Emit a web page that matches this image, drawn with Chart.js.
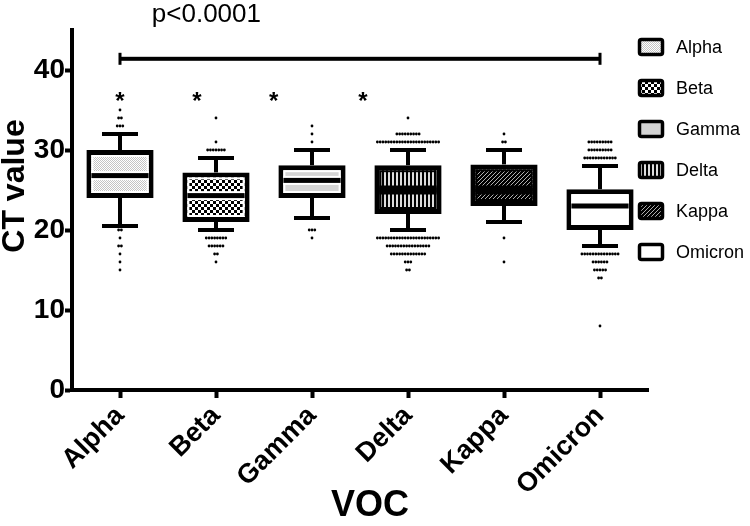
<!DOCTYPE html>
<html>
<head>
<meta charset="utf-8">
<script src="https://cdn.jsdelivr.net/npm/chart.js@4.4.1/dist/chart.umd.min.js"></script>
<style>
  html, body { margin: 0; padding: 0; background: #fff; }
  #wrap { width: 750px; height: 526px; position: relative; }
</style>
</head>
<body>
<div id="wrap"><canvas id="ctChart"></canvas></div>
<script>
const categories = ['Alpha', 'Beta', 'Gamma', 'Delta', 'Kappa', 'Omicron'];
const whiskerLow = [20.5, 20, 21.5, 20, 21, 18];
const q1 = [24, 21, 24, 22, 23, 20];
const medians = [26.8, 24.3, 26.2, 25, 25, 23];
const q3 = [30, 27.2, 28.1, 28.1, 28.2, 25.1];
const whiskerHigh = [32, 29, 30, 30, 30, 28];

// outlier rows: [CT value, number of dots]
const alphaOutliers = [[35, 1], [34, 2], [33, 3], [20, 2], [19, 1], [18, 2], [17, 1], [16, 1], [15, 1]];
const betaOutliers = [[34, 1], [31, 1], [30, 7], [19, 8], [18, 6], [17, 2], [16, 1]];
const gammaOutliers = [[33, 1], [32, 1], [31, 1], [20, 3], [19, 1]];
const deltaOutliers = [[34, 1], [32, 9], [31, 23], [19, 23], [18, 16], [17, 13], [16, 3], [15, 2]];
const kappaOutliers = [[32, 1], [31, 2], [19, 1], [16, 1]];
const omicronOutliers = [[31, 9], [30, 9], [29, 12], [17, 14], [16, 6], [15, 5], [14, 2], [8, 1]];
const outliers = [alphaOutliers, betaOutliers, gammaOutliers, deltaOutliers, kappaOutliers, omicronOutliers];

const yTicks = [0, 10, 20, 30, 40];
const starX = [0, 0.8, 1.6, 2.53];
const starY = 36.5;
const bracketY = 41.4;
const pLabel = 'p<0.0001';
const pX = 0.9;

// fill patterns like the prism style
function tile(w, h, draw) {
  const c = document.createElement('canvas');
  c.width = w; c.height = h;
  const g = c.getContext('2d');
  draw(g);
  return c.getContext('2d').createPattern(c, 'repeat');
}
const fills = [
  tile(2, 2, g => { g.fillStyle = '#fff'; g.fillRect(0, 0, 2, 2); g.fillStyle = '#c4c4c4'; g.fillRect(0, 0, 1, 1); g.fillRect(1, 1, 1, 1); }),
  tile(6, 6, g => { g.fillStyle = '#fff'; g.fillRect(0, 0, 6, 6); g.fillStyle = '#000'; g.fillRect(0, 0, 3, 3); g.fillRect(3, 3, 3, 3); }),
  '#d4d4d4',
  tile(4, 4, g => { g.fillStyle = '#000'; g.fillRect(0, 0, 4, 4); g.fillStyle = '#dcdcdc'; g.fillRect(0, 0, 2, 4); }),
  tile(4, 4, g => { g.fillStyle = '#000'; g.fillRect(0, 0, 4, 4); g.fillStyle = '#b0b0b0'; for (let i = 0; i < 4; i++) g.fillRect(i, 3 - i, 1, 1); }),
  '#fff'
];
const insetColors = ['#fff', '#fff', '#fff', '#000', '#000', '#fff'];

const outlierPoints = [];
outliers.forEach((rows, i) => {
  rows.forEach(([v, n]) => {
    for (let j = 0; j < n; j++) {
      outlierPoints.push({ x: i + (j - (n - 1) / 2) * 0.029, y: v });
    }
  });
});

const FONT = 'Arial, "Liberation Sans", sans-serif';

const boxDecor = {
  id: 'boxDecor',
  afterDatasetsDraw(chart) {
    const ctx = chart.ctx;
    const y = chart.scales.y;
    const meta = chart.getDatasetMeta(0);
    ctx.save();
    meta.data.forEach((bar, i) => {
      const cx = bar.x;
      const half = bar.width / 2;
      const top = y.getPixelForValue(q3[i]);
      const bot = y.getPixelForValue(q1[i]);
      const l = cx - half, r = cx + half;
      // inset line inside the border
      ctx.strokeStyle = insetColors[i];
      ctx.lineWidth = 2;
      ctx.strokeRect(l + 6, top + 6, r - l - 12, bot - top - 12);
      // median
      const my = y.getPixelForValue(medians[i]);
      ctx.fillStyle = insetColors[i];
      ctx.fillRect(l + 5, my - 4.5, r - l - 10, 9);
      ctx.fillStyle = '#000';
      ctx.fillRect(l + 5, my - 2.5, r - l - 10, 5);
      // whiskers
      const hi = y.getPixelForValue(whiskerHigh[i]);
      const lo = y.getPixelForValue(whiskerLow[i]);
      ctx.fillRect(cx - 2, hi, 4, top - hi);
      ctx.fillRect(cx - 2, bot, 4, lo - bot);
      ctx.fillRect(cx - 18, hi - 2, 36, 4);
      ctx.fillRect(cx - 18, lo - 2, 36, 4);
    });
    ctx.restore();
  },
  afterDraw(chart) {
    const ctx = chart.ctx;
    const y = chart.scales.y;
    const xs = chart.scales.xs;
    ctx.save();
    // significance bracket
    const by = y.getPixelForValue(bracketY);
    const bx0 = xs.getPixelForValue(0), bx1 = xs.getPixelForValue(5);
    ctx.fillStyle = '#000';
    ctx.fillRect(bx0, by - 2, bx1 - bx0, 4);
    ctx.fillRect(bx0 - 1.5, by - 6, 3, 12);
    ctx.fillRect(bx1 - 1.5, by - 6, 3, 12);
    ctx.font = '26px ' + FONT;
    ctx.textAlign = 'center';
    ctx.textBaseline = 'alphabetic';
    ctx.fillText(pLabel, xs.getPixelForValue(pX), 22);
    ctx.font = 'bold 24px ' + FONT;
    ctx.textBaseline = 'middle';
    starX.forEach(sx => ctx.fillText('*', xs.getPixelForValue(sx), y.getPixelForValue(starY) + 4));
    // axis titles
    ctx.save();
    ctx.translate(15, 186);
    ctx.rotate(-Math.PI / 2);
    ctx.font = 'bold 32px ' + FONT;
    ctx.fillText('CT value', 0, 0);
    ctx.restore();
    ctx.font = 'bold 36px ' + FONT;
    ctx.fillText('VOC', 370, 506);
    // legend
    ctx.font = '18px ' + FONT;
    ctx.textAlign = 'left';
    categories.forEach((name, i) => {
      const cy = 47 + i * 41;
      ctx.beginPath();
      ctx.roundRect(639.5, cy - 7.5, 23, 15, 2);
      ctx.fillStyle = fills[i];
      ctx.fill();
      ctx.lineWidth = 3.5;
      ctx.strokeStyle = '#000';
      ctx.stroke();
      ctx.fillStyle = '#000';
      ctx.fillText(name, 676, cy + 1);
    });
    ctx.restore();
  }
};

Chart.defaults.font.family = FONT;
Chart.defaults.color = '#000';

new Chart(document.getElementById('ctChart'), {
  type: 'bar',
  data: {
    labels: categories,
    datasets: [
      {
        label: 'CT value',
        data: categories.map((c, i) => [q1[i], q3[i]]),
        backgroundColor: fills,
        borderColor: '#000',
        borderWidth: 5,
        borderSkipped: false,
        barPercentage: 0.7,
        categoryPercentage: 1,
        grouped: false,
        order: 2
      },
      {
        type: 'scatter',
        label: 'outliers',
        data: outlierPoints,
        xAxisID: 'xs',
        pointRadius: 1.4,
        pointBorderWidth: 0,
        backgroundColor: '#000',
        order: 1
      }
    ]
  },
  options: {
    responsive: true,
    maintainAspectRatio: false,
    animation: false,
    layout: { padding: { top: 30, right: 102, left: 0, bottom: 0 } },
    plugins: { legend: { display: false }, tooltip: { enabled: false } },
    scales: {
      x: {
        type: 'category',
        offset: true,
        border: { color: '#000', width: 4 },
        grid: { offset: false, drawOnChartArea: false, tickLength: 8, tickWidth: 4, tickColor: '#000' },
        ticks: { font: { size: 27, weight: 'bold' }, maxRotation: 45, minRotation: 45, padding: 2 },
        afterFit(scale) { scale.height = 136; }
      },
      xs: { type: 'linear', display: false, offset: false, grid: { offset: false }, min: -0.5, max: 5.5 },
      y: {
        min: 0,
        max: 45,
        border: { color: '#000', width: 4 },
        grid: { drawOnChartArea: false, tickLength: 7, tickWidth: 4, tickColor: '#000' },
        afterBuildTicks(scale) { scale.ticks = yTicks.map(v => ({ value: v })); },
        ticks: { font: { size: 28, weight: 'bold' }, padding: 0 },
        afterFit(scale) { scale.width = 72; }
      }
    }
  },
  plugins: [boxDecor]
});
</script>
</body>
</html>
